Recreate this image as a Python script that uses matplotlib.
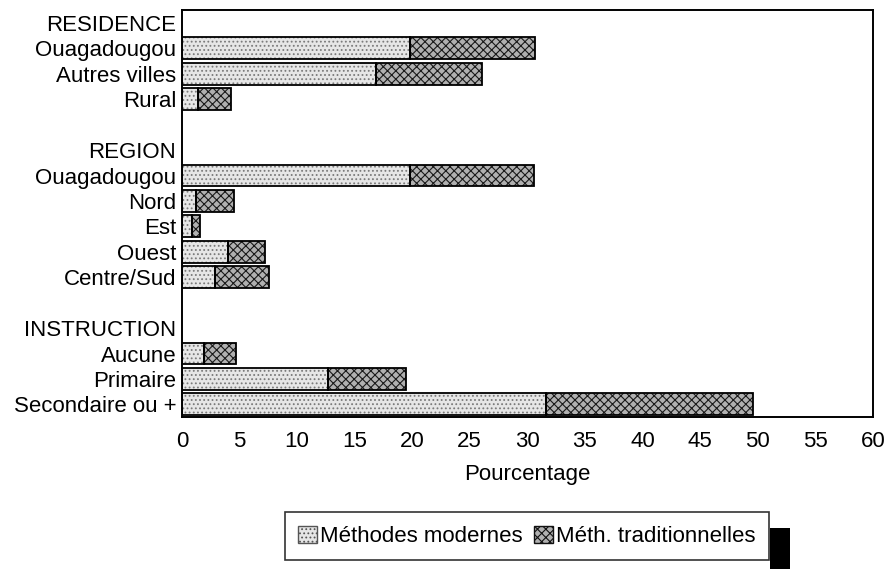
import numpy as np
import matplotlib.pyplot as plt
from matplotlib.patches import Patch, Rectangle

plt.rcParams['font.family'] = ['Liberation Sans', 'DejaVu Sans']
plt.rcParams['hatch.linewidth'] = 0.8

# data (percent)
groups = ['RESIDENCE', 'REGION', 'INSTRUCTION']

residence_labels = ['Ouagadougou', 'Autres villes', 'Rural']
residence_modernes = [19.8, 16.9, 1.4]
residence_trad = [10.9, 9.2, 2.9]

region_labels = ['Ouagadougou', 'Nord', 'Est', 'Ouest', 'Centre/Sud']
region_modernes = [19.8, 1.2, 0.9, 4.0, 2.9]
region_trad = [10.8, 3.3, 0.7, 3.2, 4.7]

instruction_labels = ['Aucune', 'Primaire', 'Secondaire ou +']
instruction_modernes = [1.9, 12.7, 31.6]
instruction_trad = [2.8, 6.8, 18.0]

xticks = np.arange(0, 61, 5)

sections = [
    (groups[0], residence_labels, residence_modernes, residence_trad),
    (groups[1], region_labels, region_modernes, region_trad),
    (groups[2], instruction_labels, instruction_modernes, instruction_trad),
]

# build row positions: header row, item rows, one blank row between sections
ypos, ylabels, bar_y, mod, trad = [], [], [], [], []
row = 0
for header, labs, m, t in sections:
    ypos.append(row)
    ylabels.append(header)
    row += 1
    for lab, mv, tv in zip(labs, m, t):
        ypos.append(row)
        ylabels.append(lab)
        bar_y.append(row)
        mod.append(mv)
        trad.append(tv)
        row += 1
    row += 1
nrows = row - 1

fig = plt.figure(figsize=(8.87, 5.69), dpi=100)
ax = fig.add_axes([0.205, 0.267, 0.779, 0.715])

h = 0.86
mod = np.array(mod)
trad = np.array(trad)
# hatched fills (hatch colour follows edgecolor), then black outlines
ax.barh(bar_y, mod, height=h, color='#e6e6e6', edgecolor='#7a7a7a',
        hatch='....', linewidth=0)
ax.barh(bar_y, trad, left=mod, height=h, color='#b0b0b0', edgecolor='#1a1a1a',
        hatch='xxxx', linewidth=0)
ax.barh(bar_y, mod, height=h, fill=False, edgecolor='black', linewidth=1.3)
ax.barh(bar_y, trad, left=mod, height=h, fill=False, edgecolor='black', linewidth=1.3)

ax.set_xlim(0, 60)
ax.set_ylim(nrows - 0.5, -0.5)
ax.set_xticks(xticks)
ax.set_yticks(ypos)
ax.set_yticklabels(ylabels)
ax.tick_params(axis='both', length=0, labelsize=16)
ax.tick_params(axis='x', pad=10)
ax.tick_params(axis='y', pad=4)
ax.set_xlabel('Pourcentage', fontsize=16, labelpad=9)
for s in ax.spines.values():
    s.set_linewidth(1.4)

handles = [
    Patch(facecolor='#e6e6e6', edgecolor='#555555', hatch='....', label='Méthodes modernes'),
    Patch(facecolor='#b0b0b0', edgecolor='#111111', hatch='xxxx', label='Méth. traditionnelles'),
]
leg = fig.legend(handles=handles, ncol=2, loc='center',
                 bbox_to_anchor=(0.321, 0.004, 0.546, 0.107), mode='expand',
                 fontsize=16, frameon=True, fancybox=False, borderpad=0.6,
                 handlelength=0.85, handleheight=0.85, handletextpad=0.15,
                 columnspacing=0.5, borderaxespad=0)
leg.get_frame().set_edgecolor('black')
leg.get_frame().set_linewidth(1.2)

# black block beside the legend box
fig.patches.append(Rectangle((0.868, 0.0), 0.023, 0.072, transform=fig.transFigure,
                             facecolor='black', edgecolor='none'))

fig.savefig('out.png', dpi=100)
